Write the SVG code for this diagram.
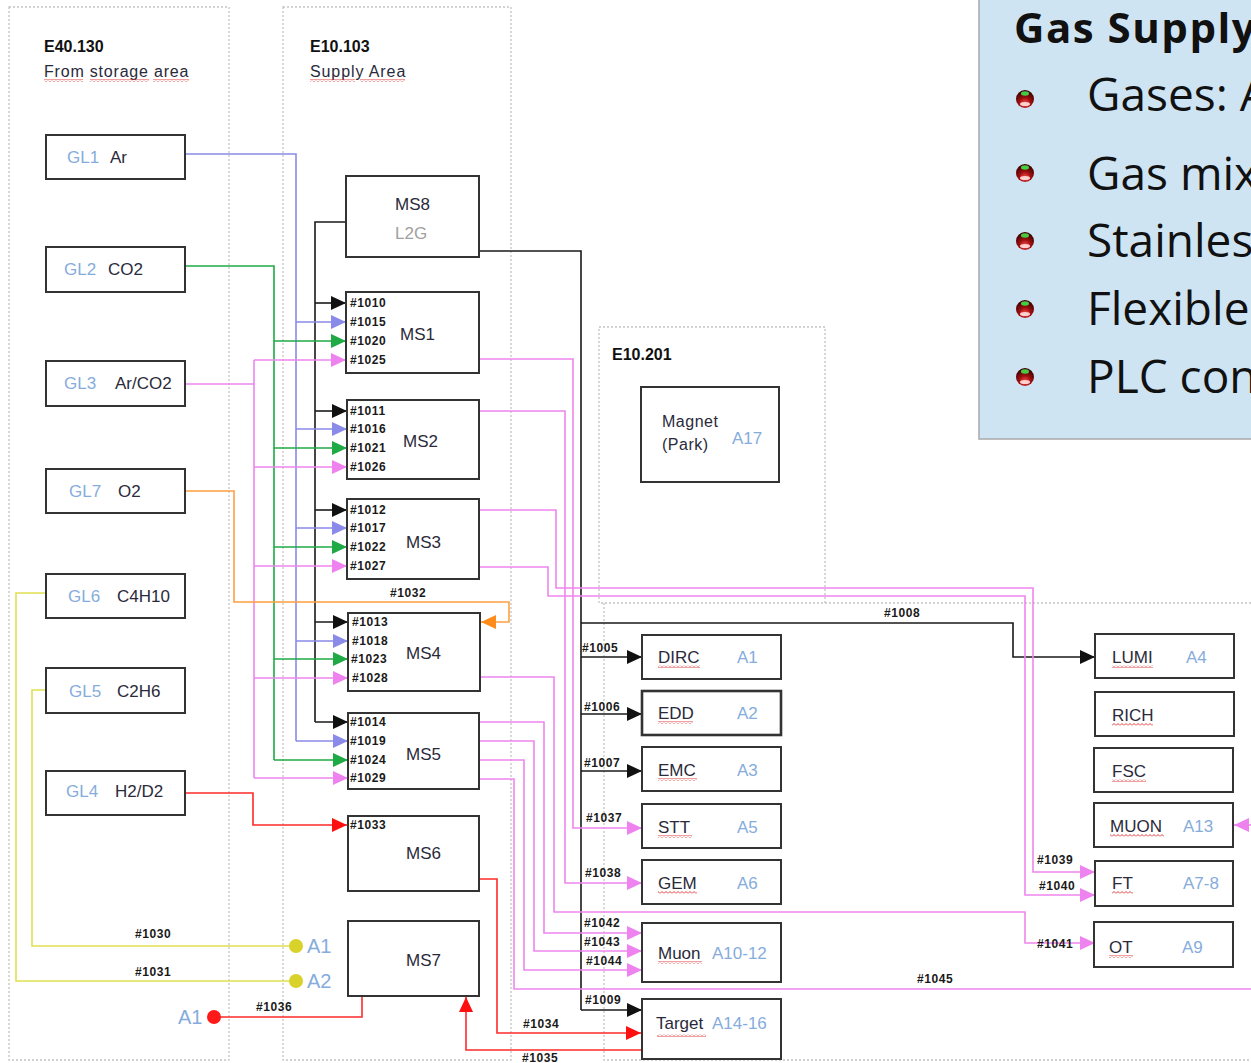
<svg xmlns="http://www.w3.org/2000/svg" width="1251" height="1063" viewBox="0 0 1251 1063">
<style>
.reg{fill:none;stroke:#c4c4c4;stroke-width:1.3;stroke-dasharray:2 2}
.box{fill:#fff;stroke:#333;stroke-width:2}
.t{font-family:"Liberation Sans",Arial,sans-serif;font-size:17px;fill:#2a2a3a}
.h{font-family:"Liberation Sans",Arial,sans-serif;font-size:16px;font-weight:bold;fill:#111}
.bl{fill:#86acdc}
.gr{fill:#a0a0a0}
.p{font-family:"Liberation Sans",Arial,sans-serif;font-size:12px;font-weight:bold;letter-spacing:0.6px;fill:#1a1a1a}
.ln{fill:none;stroke-width:1.6}
.k{stroke:#1a1a1a}.u{stroke:#8a8ae8}.g{stroke:#1faa45}.m{stroke:#ee86ee}.o{stroke:#ffa040}.r{stroke:#ff2a2a}.y{stroke:#e0e050}
.sq{fill:url(#sq)}
.pt{font-family:"Open Sans","Noto Sans",sans-serif;font-size:46px;fill:#111}
</style>
<defs>
<pattern id="sq" width="4" height="3" patternUnits="userSpaceOnUse"><path d="M0,2.5 L2,0.5 L4,2.5" fill="none" stroke="#e02828" stroke-width="0.9"/></pattern>
<marker id="ak" viewBox="0 0 15 14" refX="15" refY="7" markerWidth="15" markerHeight="14" markerUnits="userSpaceOnUse" orient="auto"><path d="M0,0 L15,7 L0,14z" fill="#111"/></marker>
<marker id="au" viewBox="0 0 15 14" refX="15" refY="7" markerWidth="15" markerHeight="14" markerUnits="userSpaceOnUse" orient="auto"><path d="M0,0 L15,7 L0,14z" fill="#8a8ae8"/></marker>
<marker id="ag" viewBox="0 0 15 14" refX="15" refY="7" markerWidth="15" markerHeight="14" markerUnits="userSpaceOnUse" orient="auto"><path d="M0,0 L15,7 L0,14z" fill="#1faa45"/></marker>
<marker id="am" viewBox="0 0 15 14" refX="15" refY="7" markerWidth="15" markerHeight="14" markerUnits="userSpaceOnUse" orient="auto"><path d="M0,0 L15,7 L0,14z" fill="#ee82ee"/></marker>
<marker id="ao" viewBox="0 0 15 14" refX="15" refY="7" markerWidth="15" markerHeight="14" markerUnits="userSpaceOnUse" orient="auto"><path d="M0,0 L15,7 L0,14z" fill="#ff8c1a"/></marker>
<marker id="ar" viewBox="0 0 15 14" refX="15" refY="7" markerWidth="15" markerHeight="14" markerUnits="userSpaceOnUse" orient="auto"><path d="M0,0 L15,7 L0,14z" fill="#ff1010"/></marker>
<radialGradient id="ball" cx="0.5" cy="0.75" r="0.7"><stop offset="0" stop-color="#ff5050"/><stop offset="0.45" stop-color="#a01010"/><stop offset="1" stop-color="#3a0000"/></radialGradient>
<g id="bul"><circle r="9" fill="url(#ball)"/><ellipse cy="-5.5" rx="4" ry="2.2" fill="#44cc44"/><ellipse cy="5" rx="5" ry="2" fill="#ffd0d0"/></g>
</defs>

<rect width="1251" height="1063" fill="#fff"/>

<g id="regions">
<rect class="reg" x="9" y="7" width="220" height="1053"/>
<rect class="reg" x="283" y="7" width="228" height="1053"/>
<rect class="reg" x="599" y="327" width="226" height="276"/>
<path class="reg" d="M604,603 V1060 H1251 M825,603 H1251"/>
<text class="h" x="44" y="52">E40.130</text>
<text class="t" x="44" y="77" style="font-size:16px;letter-spacing:0.8px">From storage area</text>
<rect class="sq" x="44" y="79" width="39" height="3"/><rect class="sq" x="90" y="79" width="59" height="3"/><rect class="sq" x="153" y="79" width="36" height="3"/>
<text class="h" x="310" y="52">E10.103</text>
<text class="t" x="310" y="77" style="font-size:16px;letter-spacing:0.9px">Supply Area</text>
<rect class="sq" x="310" y="79" width="45" height="3"/><rect class="sq" x="360" y="79" width="45" height="3"/>
<text class="h" x="612" y="360">E10.201</text>
</g>

<g id="connectors">
<!-- black -->
<path class="ln k" d="M346,222 H315 V722"/>
<path class="ln k" d="M315,303 H346" marker-end="url(#ak)"/>
<path class="ln k" d="M315,411 H347" marker-end="url(#ak)"/>
<path class="ln k" d="M315,510 H347" marker-end="url(#ak)"/>
<path class="ln k" d="M315,622 H348" marker-end="url(#ak)"/>
<path class="ln k" d="M315,722 H348" marker-end="url(#ak)"/>
<path class="ln k" d="M479,251 H581 V1010"/>
<path class="ln k" d="M581,657 H642" marker-end="url(#ak)"/>
<path class="ln k" d="M581,714 H642" marker-end="url(#ak)"/>
<path class="ln k" d="M581,771 H642" marker-end="url(#ak)"/>
<path class="ln k" d="M581,1010 H642" marker-end="url(#ak)"/>
<path class="ln k" d="M581,623 H1013 V657 H1095" marker-end="url(#ak)"/>
<!-- blue -->
<path class="ln u" d="M185,154 H296 V741"/>
<path class="ln u" d="M296,322 H346" marker-end="url(#au)"/>
<path class="ln u" d="M296,429 H347" marker-end="url(#au)"/>
<path class="ln u" d="M296,528 H347" marker-end="url(#au)"/>
<path class="ln u" d="M296,641 H348" marker-end="url(#au)"/>
<path class="ln u" d="M296,741 H348" marker-end="url(#au)"/>
<!-- green -->
<path class="ln g" d="M185,266 H274 V760"/>
<path class="ln g" d="M274,341 H346" marker-end="url(#ag)"/>
<path class="ln g" d="M274,448 H347" marker-end="url(#ag)"/>
<path class="ln g" d="M274,547 H347" marker-end="url(#ag)"/>
<path class="ln g" d="M274,659 H348" marker-end="url(#ag)"/>
<path class="ln g" d="M274,760 H348" marker-end="url(#ag)"/>
<!-- pink inputs -->
<path class="ln m" d="M185,384 H254 M254,360 V778"/>
<path class="ln m" d="M254,360 H346" marker-end="url(#am)"/>
<path class="ln m" d="M254,467 H347" marker-end="url(#am)"/>
<path class="ln m" d="M254,566 H347" marker-end="url(#am)"/>
<path class="ln m" d="M254,678 H348" marker-end="url(#am)"/>
<path class="ln m" d="M254,778 H348" marker-end="url(#am)"/>
<!-- orange -->
<path class="ln o" d="M185,491 H234 V602 H509 V622 H481" marker-end="url(#ao)"/>
<!-- red -->
<path class="ln r" d="M185,793 H253 V825 H347" marker-end="url(#ar)"/>
<path class="ln r" d="M479,879 H497 V1033 H641" marker-end="url(#ar)"/>
<path class="ln r" d="M641,1050 H466 V997" marker-end="url(#ar)"/>
<path class="ln r" d="M214,1017 H362 V997"/>
<circle cx="214" cy="1017" r="7" fill="#ff1a1a"/>
<!-- yellow -->
<path class="ln y" d="M46,593 H16 V981 H296"/>
<path class="ln y" d="M46,690 H32 V946 H296"/>
<circle cx="296" cy="946" r="7" fill="#d8d22a"/>
<circle cx="296" cy="981" r="7" fill="#d8d22a"/>
<!-- pink outputs -->
<path class="ln m" d="M479,359 H573 V828 H642" marker-end="url(#am)"/>
<path class="ln m" d="M479,411 H565 V883 H642" marker-end="url(#am)"/>
<path class="ln m" d="M479,510 H556 V588 H1033 V872 H1095" marker-end="url(#am)"/>
<path class="ln m" d="M479,567 H548 V596 H1025 V895 H1095" marker-end="url(#am)"/>
<path class="ln m" d="M480,677 H554 V912 H1025 V943 H1095" marker-end="url(#am)"/>
<path class="ln m" d="M479,722 H544 V933 H642" marker-end="url(#am)"/>
<path class="ln m" d="M479,741 H534 V951 H642" marker-end="url(#am)"/>
<path class="ln m" d="M479,760 H524 V970 H642" marker-end="url(#am)"/>
<path class="ln m" d="M479,779 H514 V989 H1251"/>
<path class="ln m" d="M1251,825 H1234" marker-end="url(#am)"/>
<!-- labels -->
<text class="p" x="390" y="597">#1032</text>
<text class="p" x="135" y="938">#1030</text>
<text class="p" x="135" y="976">#1031</text>
<text class="p" x="256" y="1011">#1036</text>
<text class="p" x="523" y="1028">#1034</text>
<text class="p" x="522" y="1062">#1035</text>
<text class="p" x="582" y="652">#1005</text>
<text class="p" x="584" y="711">#1006</text>
<text class="p" x="584" y="767">#1007</text>
<text class="p" x="586" y="822">#1037</text>
<text class="p" x="585" y="877">#1038</text>
<text class="p" x="584" y="927">#1042</text>
<text class="p" x="584" y="946">#1043</text>
<text class="p" x="586" y="965">#1044</text>
<text class="p" x="585" y="1004">#1009</text>
<text class="p" x="884" y="617">#1008</text>
<text class="p" x="1037" y="864">#1039</text>
<text class="p" x="1039" y="890">#1040</text>
<text class="p" x="1037" y="948">#1041</text>
<text class="p" x="917" y="983">#1045</text>
<text class="t bl" x="307" y="953" style="font-size:20px">A1</text>
<text class="t bl" x="307" y="988" style="font-size:20px">A2</text>
<text class="t bl" x="178" y="1024" style="font-size:20px">A1</text>
</g>

<g id="GL1"><rect class="box" x="46" y="135" width="139" height="44"/><text class="t bl" x="67" y="163">GL1</text><text class="t" x="110" y="163">Ar</text></g>
<g id="GL2"><rect class="box" x="46" y="247" width="139" height="45"/><text class="t bl" x="64" y="275">GL2</text><text class="t" x="108" y="275">CO2</text></g>
<g id="GL3"><rect class="box" x="46" y="361" width="139" height="45"/><text class="t bl" x="64" y="389">GL3</text><text class="t" x="115" y="389">Ar/CO2</text></g>
<g id="GL7"><rect class="box" x="46" y="469" width="139" height="44"/><text class="t bl" x="69" y="497">GL7</text><text class="t" x="118" y="497">O2</text></g>
<g id="GL6"><rect class="box" x="46" y="574" width="139" height="44"/><text class="t bl" x="68" y="602">GL6</text><text class="t" x="117" y="602">C4H10</text></g>
<g id="GL5"><rect class="box" x="46" y="668" width="139" height="45"/><text class="t bl" x="69" y="697">GL5</text><text class="t" x="117" y="697">C2H6</text></g>
<g id="GL4"><rect class="box" x="46" y="771" width="139" height="44"/><text class="t bl" x="66" y="797">GL4</text><text class="t" x="115" y="797">H2/D2</text></g>

<g id="MS8"><rect class="box" x="346" y="176" width="133" height="81"/><text class="t" x="395" y="210">MS8</text><text class="t gr" x="395" y="239">L2G</text></g>
<g id="MS1"><rect class="box" x="346" y="292" width="133" height="81"/><text class="t" x="400" y="340">MS1</text>
<text class="p" x="350" y="307">#1010</text><text class="p" x="350" y="326">#1015</text><text class="p" x="350" y="345">#1020</text><text class="p" x="350" y="364">#1025</text></g>
<g id="MS2"><rect class="box" x="347" y="400" width="132" height="79"/><text class="t" x="403" y="447">MS2</text>
<text class="p" x="350" y="415">#1011</text><text class="p" x="350" y="433">#1016</text><text class="p" x="350" y="452">#1021</text><text class="p" x="350" y="471">#1026</text></g>
<g id="MS3"><rect class="box" x="347" y="499" width="132" height="80"/><text class="t" x="406" y="548">MS3</text>
<text class="p" x="350" y="514">#1012</text><text class="p" x="350" y="532">#1017</text><text class="p" x="350" y="551">#1022</text><text class="p" x="350" y="570">#1027</text></g>
<g id="MS4"><rect class="box" x="348" y="613" width="132" height="78"/><text class="t" x="406" y="659">MS4</text>
<text class="p" x="352" y="626">#1013</text><text class="p" x="352" y="645">#1018</text><text class="p" x="351" y="663">#1023</text><text class="p" x="352" y="682">#1028</text></g>
<g id="MS5"><rect class="box" x="348" y="713" width="131" height="76"/><text class="t" x="406" y="760">MS5</text>
<text class="p" x="350" y="726">#1014</text><text class="p" x="350" y="745">#1019</text><text class="p" x="350" y="764">#1024</text><text class="p" x="350" y="782">#1029</text></g>
<g id="MS6"><rect class="box" x="348" y="816" width="131" height="75"/><text class="t" x="406" y="859">MS6</text><text class="p" x="350" y="829">#1033</text></g>
<g id="MS7"><rect class="box" x="348" y="921" width="131" height="75"/><text class="t" x="406" y="966">MS7</text></g>

<g id="Magnet"><rect class="box" x="641" y="387" width="138" height="95"/><text class="t" x="662" y="427" style="font-size:16px;letter-spacing:0.5px">Magnet</text><text class="t" x="662" y="450" style="font-size:16px;letter-spacing:0.5px">(Park)</text><text class="t bl" x="732" y="444">A17</text></g>

<g id="DIRC"><rect class="box" x="642" y="635" width="139" height="44"/><text class="t" x="658" y="663">DIRC</text><text class="t bl" x="737" y="663">A1</text><rect class="sq" x="658" y="665" width="42" height="3"/></g>
<g id="EDD"><rect class="box" x="642" y="691" width="139" height="44" style="stroke-width:2.6"/><text class="t" x="658" y="719">EDD</text><text class="t bl" x="737" y="719">A2</text><rect class="sq" x="658" y="721" width="35" height="3"/></g>
<g id="EMC"><rect class="box" x="642" y="747" width="139" height="44"/><text class="t" x="658" y="776">EMC</text><text class="t bl" x="737" y="776">A3</text><rect class="sq" x="658" y="778" width="39" height="3"/></g>
<g id="STT"><rect class="box" x="642" y="804" width="139" height="44"/><text class="t" x="658" y="833">STT</text><text class="t bl" x="737" y="833">A5</text><rect class="sq" x="658" y="835" width="34" height="3"/></g>
<g id="GEM"><rect class="box" x="642" y="860" width="139" height="44"/><text class="t" x="658" y="889">GEM</text><text class="t bl" x="737" y="889">A6</text><rect class="sq" x="658" y="891" width="39" height="3"/></g>
<g id="Muon"><rect class="box" x="642" y="923" width="139" height="59"/><text class="t" x="658" y="959">Muon</text><text class="t bl" x="712" y="959">A10-12</text><rect class="sq" x="658" y="961" width="44" height="3"/></g>
<g id="Target"><rect class="box" x="642" y="999" width="139" height="60"/><text class="t" x="656" y="1029">Target</text><text class="t bl" x="712" y="1029">A14-16</text><rect class="sq" x="657" y="1034" width="49" height="3"/></g>

<g id="LUMI"><rect class="box" x="1095" y="634" width="139" height="44"/><text class="t" x="1112" y="663">LUMI</text><text class="t bl" x="1186" y="663">A4</text><rect class="sq" x="1112" y="665" width="41" height="3"/></g>
<g id="RICH"><rect class="box" x="1095" y="692" width="139" height="44"/><text class="t" x="1112" y="721">RICH</text><rect class="sq" x="1112" y="723" width="41" height="3"/></g>
<g id="FSC"><rect class="box" x="1094" y="748" width="139" height="44"/><text class="t" x="1112" y="777">FSC</text><rect class="sq" x="1112" y="779" width="34" height="3"/></g>
<g id="MUON"><rect class="box" x="1094" y="803" width="139" height="44"/><text class="t" x="1110" y="832">MUON</text><text class="t bl" x="1183" y="832">A13</text><rect class="sq" x="1110" y="834" width="54" height="3"/></g>
<g id="FT"><rect class="box" x="1095" y="861" width="138" height="45"/><text class="t" x="1112" y="889">FT</text><text class="t bl" x="1183" y="889">A7-8</text><rect class="sq" x="1112" y="891" width="21" height="3"/></g>
<g id="OT"><rect class="box" x="1094" y="922" width="139" height="45"/><text class="t" x="1109" y="953">OT</text><text class="t bl" x="1182" y="953">A9</text><rect class="sq" x="1109" y="955" width="24" height="3"/></g>

<g id="panel">
<rect x="979" y="-2" width="275" height="441" fill="#cfe4f3" stroke="#a8a8a8" stroke-width="1.5"/>
<text x="1014" y="43" style="font-family:'Open Sans','Noto Sans',sans-serif;font-size:42px;font-weight:bold;letter-spacing:1.5px;fill:#111">Gas Supply</text>
<use href="#bul" x="1025" y="99"/><text class="pt" x="1087" y="111">Gases: A</text>
<use href="#bul" x="1025" y="173"/><text class="pt" x="1087" y="190">Gas mix</text>
<use href="#bul" x="1025" y="241"/><text class="pt" x="1087" y="257">Stainless</text>
<use href="#bul" x="1025" y="309"/><text class="pt" x="1087" y="325">Flexible</text>
<use href="#bul" x="1025" y="377"/><text class="pt" x="1087" y="393">PLC con</text>
</g>
</svg>
